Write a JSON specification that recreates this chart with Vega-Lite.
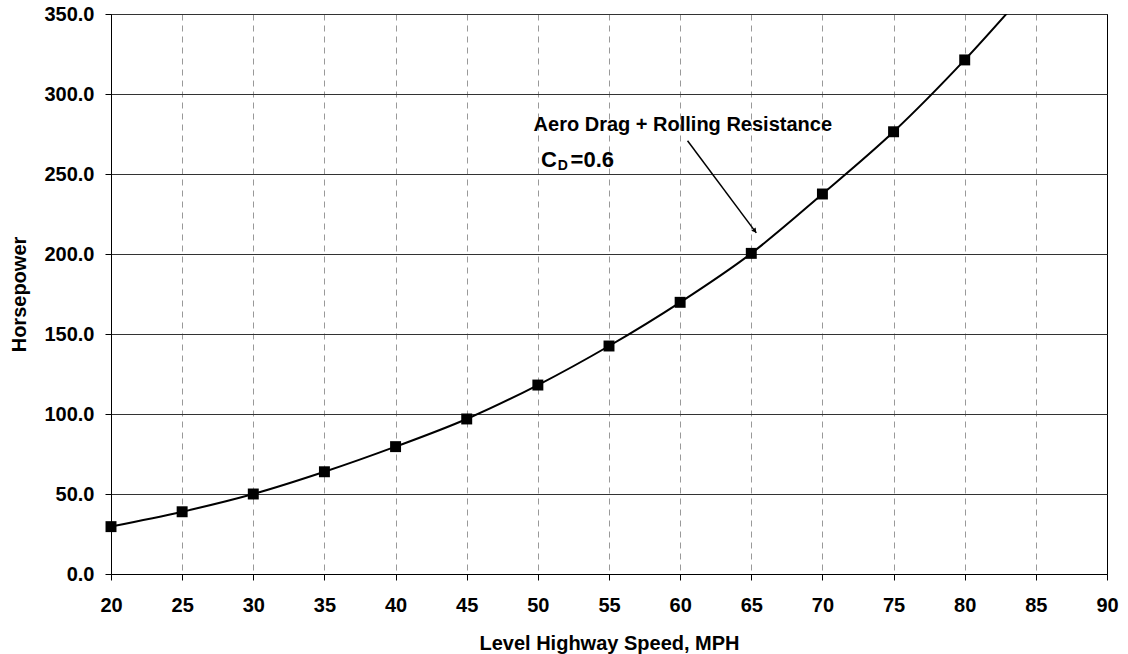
{
  "$schema": "https://vega.github.io/schema/vega-lite/v6.json",
  "width": 996,
  "height": 560,
  "autosize": {"type": "none"},
  "padding": {"left": 111, "top": 14, "right": 21, "bottom": 80},
  "background": "white",
  "config": {
    "font": "Liberation Sans",
    "view": {"stroke": "black", "strokeWidth": 1},
    "axis": {
      "labelFont": "Liberation Sans",
      "labelFontWeight": "bold",
      "labelFontSize": 20,
      "labelColor": "black",
      "labelFlush": false,
      "labelOverlap": false,
      "titleFont": "Liberation Sans",
      "titleFontWeight": "bold",
      "titleFontSize": 20,
      "titleColor": "black",
      "domainColor": "black",
      "tickColor": "black",
      "tickSize": 6
    }
  },
  "datasets": {
    "curve": [
      {"speed": 20, "hp": 29.6},
      {"speed": 25, "hp": 38.9},
      {"speed": 30, "hp": 50.0},
      {"speed": 35, "hp": 63.9},
      {"speed": 40, "hp": 79.6},
      {"speed": 45, "hp": 96.9},
      {"speed": 50, "hp": 118.1},
      {"speed": 55, "hp": 142.5},
      {"speed": 60, "hp": 169.8},
      {"speed": 65, "hp": 200.4},
      {"speed": 70, "hp": 237.5},
      {"speed": 75, "hp": 276.4},
      {"speed": 80, "hp": 321.3},
      {"speed": 85, "hp": 371.0}
    ]
  },
  "encoding": {
    "x": {
      "field": "speed",
      "type": "quantitative",
      "title": "Level Highway Speed, MPH",
      "scale": {"domain": [20, 90], "nice": false, "zero": false},
      "axis": {
        "values": [20, 25, 30, 35, 40, 45, 50, 55, 60, 65, 70, 75, 80, 85, 90],
        "grid": true,
        "gridColor": {"condition": {"test": "datum.value >= 90", "value": "black"}, "value": "#999999"},
        "gridDash": {"condition": {"test": "datum.value >= 90", "value": []}, "value": [6, 5]},
        "gridWidth": 1,
        "labelPadding": 15,
        "titleY": 59
      }
    },
    "y": {
      "field": "hp",
      "type": "quantitative",
      "title": "Horsepower",
      "scale": {"domain": [0, 350], "nice": false},
      "axis": {
        "values": [0, 50, 100, 150, 200, 250, 300, 350],
        "format": ".1f",
        "grid": true,
        "gridColor": "#333333",
        "gridWidth": 1,
        "labelPadding": 11,
        "titleX": -82
      }
    }
  },
  "layer": [
    {
      "data": {"name": "curve"},
      "mark": {"type": "line", "color": "black", "strokeWidth": 2, "interpolate": "monotone", "clip": true}
    },
    {
      "data": {"name": "curve"},
      "transform": [{"filter": "datum.speed <= 80"}],
      "mark": {"type": "point", "shape": "square", "filled": true, "color": "black", "opacity": 1, "size": 120}
    },
    {
      "data": {"values": [{"speed": 49.7, "hp": 277.1, "label": "Aero Drag + Rolling Resistance"}]},
      "mark": {"type": "text", "align": "left", "baseline": "alphabetic", "fontSize": 20, "fontWeight": "bold", "color": "black"},
      "encoding": {"text": {"field": "label"}}
    },
    {
      "data": {"values": [
        {"speed": 50.22, "hp": 254.2, "label": "C"},
        {"speed": 52.3, "hp": 254.2, "label": "=0.6"}
      ]},
      "mark": {"type": "text", "align": "left", "baseline": "alphabetic", "fontSize": 22, "fontWeight": "bold", "color": "black"},
      "encoding": {"text": {"field": "label"}}
    },
    {
      "data": {"values": [{"speed": 51.4, "hp": 252.4, "label": "D"}]},
      "mark": {"type": "text", "align": "left", "baseline": "alphabetic", "fontSize": 14, "fontWeight": "bold", "color": "black"},
      "encoding": {"text": {"field": "label"}}
    },
    {
      "data": {"values": [{"speed": 60.52, "hp": 270.8, "speed2": 65.35, "hp2": 213.2}]},
      "mark": {"type": "rule", "color": "black", "strokeWidth": 1.5},
      "encoding": {
        "x2": {"field": "speed2"},
        "y2": {"field": "hp2"}
      }
    },
    {
      "data": {"values": [{"speed": 65.25, "hp": 214.4}]},
      "mark": {"type": "point", "shape": "triangle-up", "filled": true, "color": "black", "opacity": 1, "size": 30, "angle": 143}
    }
  ]
}
